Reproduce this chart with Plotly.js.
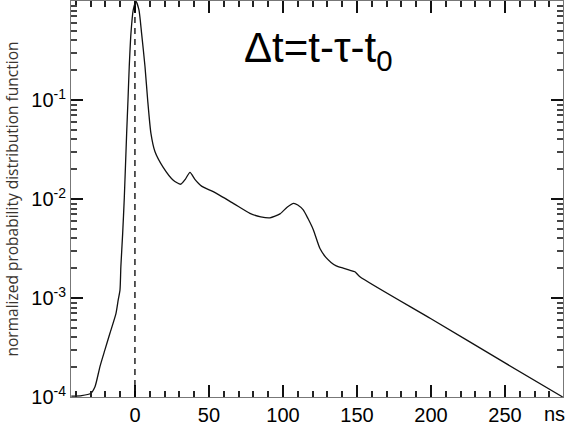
<!DOCTYPE html>
<html>
<head>
<meta charset="utf-8">
<script src="https://cdn.plot.ly/plotly-3.0.1.min.js"></script>
<style>
html,body{margin:0;padding:0;background:#fff;}
#chart{width:568px;height:427px;}
</style>
</head>
<body>
<div id="chart"></div>
<script>
// Δt in ns
const dtNs = [-43, -36, -30, -27, -23.6, -20.3, -16.9, -12.8, -11.3, -10.1, -9.5, -8.3, -7.2, -5.6, -4.7, -3.85, -2.7, -1.15, 0.7, 2.7, 4.5, 6.8, 8.6, 10.8, 13.5, 19.1, 25.9, 30.9, 34, 37.2, 40.5, 45, 52.9, 66.4, 77.7, 85, 91.2, 98, 103, 107.2, 110, 113.7, 117, 120.5, 125, 129, 132.5, 136, 140.7, 145, 148.6, 152, 200, 250, 289];
// normalized probability distribution function
const pdf = [1.02e-4, 1.035e-4, 1.084e-4, 1.27e-4, 2.04e-4, 2.99e-4, 4.40e-4, 7.0e-4, 9.55e-4, 1.20e-3, 2.09e-3, 4.47e-3, 1.02e-2, 4.60e-2, 0.100, 0.217, 0.471, 0.813, 0.99, 0.813, 0.471, 0.217, 0.100, 0.046, 0.0302, 0.0209, 0.0155, 0.0141, 0.0158, 0.0186, 0.0158, 0.0135, 0.01186, 0.00904, 0.00716, 0.00661, 0.00646, 0.00708, 0.00832, 0.00904, 0.00871, 0.00776, 0.00631, 0.0049, 0.00316, 0.00257, 0.00229, 0.00211, 0.0020, 0.00191, 0.00184, 0.00164, 0.000617, 0.000221, 0.0001];

const xTickVals = [0, 50, 100, 150, 200, 250];
const xTickText = ['0', '50', '100', '150', '200', '250'];
const xMinorVals = [-40, -30, -20, -10, 10, 20, 30, 40, 60, 70, 80, 90, 110, 120, 130, 140, 160, 170, 180, 190, 210, 220, 230, 240, 260, 270, 280];
const yTickVals = [1e-4, 1e-3, 1e-2, 1e-1];
const yTickText = ['10<sup>-4</sup>', '10<sup>-3</sup>', '10<sup>-2</sup>', '10<sup>-1</sup>'];
const yMinorVals = [2e-4, 3e-4, 4e-4, 5e-4, 6e-4, 7e-4, 8e-4, 9e-4,
                    2e-3, 3e-3, 4e-3, 5e-3, 6e-3, 7e-3, 8e-3, 9e-3,
                    2e-2, 3e-2, 4e-2, 5e-2, 6e-2, 7e-2, 8e-2, 9e-2,
                    0.2, 0.3, 0.4, 0.5, 0.6, 0.7, 0.8, 0.9];
const refLineX = 0;
const titleText = 'Δt=t-τ-t<sub>0</sub>';
const xUnit = 'ns';
const yTitle = 'normalized probability distribution function';

const xRange = [-43.2, 289.2];
const yRangeLog = [-4, 0];

const traces = [
  {
    x: dtNs, y: pdf, type: 'scatter', mode: 'lines',
    line: {color: '#111', width: 1.3, shape: 'spline', smoothing: 0.6},
    hoverinfo: 'skip'
  },
  {
    // carrier for the minor-tick overlay axes (invisible)
    x: dtNs, y: pdf, xaxis: 'x2', yaxis: 'y2', type: 'scatter', mode: 'lines',
    line: {color: 'rgba(0,0,0,0)', width: 0}, hoverinfo: 'skip'
  }
];

const tickFont = {family: 'Liberation Sans, Arial, sans-serif', size: 20, color: '#000'};

const layout = {
  width: 568, height: 427,
  margin: {l: 71, r: 5, t: 1, b: 30},
  paper_bgcolor: '#fff', plot_bgcolor: 'rgba(0,0,0,0)',
  showlegend: false,
  xaxis: {
    range: xRange, showgrid: false, zeroline: false,
    showline: true, linecolor: '#777', linewidth: 1, mirror: 'ticks',
    ticks: 'inside', ticklen: 12, tickwidth: 1.5, tickcolor: '#111',
    tickvals: xTickVals, ticktext: xTickText, tickfont: tickFont
  },
  xaxis2: {
    range: xRange, overlaying: 'x', anchor: 'y', side: 'bottom',
    showgrid: false, zeroline: false, showline: false, mirror: 'ticks',
    ticks: 'inside', ticklen: 6, tickwidth: 1.5, tickcolor: '#222',
    tickvals: xMinorVals, showticklabels: false
  },
  yaxis: {
    type: 'log', range: yRangeLog, showgrid: false, zeroline: false,
    showline: true, linecolor: '#777', linewidth: 1, mirror: 'ticks',
    ticks: 'inside', ticklen: 12, tickwidth: 1.5, tickcolor: '#111',
    tickvals: yTickVals, ticktext: yTickText, tickfont: tickFont,
    title: {text: yTitle, font: {family: 'Open Sans, sans-serif', size: 15.5, color: '#3a3530'}, standoff: 8}
  },
  yaxis2: {
    type: 'log', range: yRangeLog, overlaying: 'y', anchor: 'x', side: 'left',
    showgrid: false, zeroline: false, showline: false, mirror: 'ticks',
    ticks: 'inside', ticklen: 6, tickwidth: 1.5, tickcolor: '#444',
    tickvals: yMinorVals, showticklabels: false
  },
  shapes: [{
    type: 'line', xref: 'x', yref: 'paper', x0: refLineX, x1: refLineX, y0: 0, y1: 1,
    line: {color: '#000', width: 1.3, dash: '6px,5px'}
  }],
  annotations: [
    {text: titleText, xref: 'paper', yref: 'paper', x: 0.504, y: 0.876, xanchor: 'center', yanchor: 'middle',
     showarrow: false, font: {family: 'Liberation Sans, Arial, sans-serif', size: 42, color: '#000'}},
    {text: xUnit, xref: 'paper', yref: 'paper', x: 1.008, y: 0, xanchor: 'right', yanchor: 'top', yshift: -4,
     showarrow: false, font: tickFont}
  ]
};

Plotly.newPlot('chart', traces, layout, {displayModeBar: false});
</script>
</body>
</html>
